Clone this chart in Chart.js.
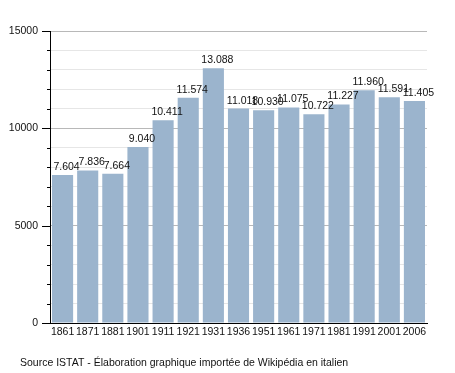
<!DOCTYPE html>
<html>
<head>
<meta charset="utf-8">
<script src="https://cdn.jsdelivr.net/npm/chart.js@4/dist/chart.umd.min.js"></script>
<style>
html,body{margin:0;padding:0;background:#fff;}
#wrap{position:relative;width:455px;height:373px;}
</style>
</head>
<body>
<div id="wrap"><canvas id="c" width="455" height="373"></canvas></div>
<script>
const years = ['1861','1871','1881','1901','1911','1921','1931','1936','1951','1961','1971','1981','1991','2001','2006'];
const population = [7604,7836,7664,9040,10411,11574,13088,11018,10930,11075,10722,11227,11960,11591,11405];
const yTickLabels = [0,5000,10000,15000];
const sourceNote = 'Source ISTAT - Élaboration graphique importée de Wikipédia en italien';

const FONT = '"Liberation Sans", Arial, Helvetica, sans-serif';
const FS = 10.5;
const fmt = v => String(v).replace(/\B(?=(\d{3})+(?!\d))/g, '.');

const extras = {
  id: 'extras',
  afterDatasetsDraw(chart) {
    const ctx = chart.ctx;
    const y = chart.scales.y;
    const area = chart.chartArea;
    ctx.save();
    ctx.strokeStyle = '#000';
    ctx.lineWidth = 1;
    for (let v = 0; v <= 15000; v += 1000) {
      const py = Math.round(y.getPixelForValue(v)) + 0.5;
      const len = yTickLabels.includes(v) ? 8 : 3;
      ctx.beginPath();
      ctx.moveTo(area.left - len, py);
      ctx.lineTo(area.left, py);
      ctx.stroke();
    }
    ctx.fillStyle = '#111';
    ctx.font = FS + 'px ' + FONT;
    ctx.textAlign = 'center';
    ctx.textBaseline = 'alphabetic';
    const meta = chart.getDatasetMeta(0);
    meta.data.forEach((bar, i) => {
      ctx.fillText(fmt(population[i]), bar.x + 4, bar.y - 5);
    });
    ctx.textAlign = 'left';
    ctx.fillText(sourceNote, 20, 366);
    ctx.restore();
  }
};

new Chart(document.getElementById('c'), {
  type: 'bar',
  data: {
    labels: years,
    datasets: [{
      data: population,
      backgroundColor: 'rgb(155,180,205)',
      borderWidth: 0,
      barPercentage: 1,
      categoryPercentage: 0.84
    }]
  },
  options: {
    responsive: false,
    animation: false,
    devicePixelRatio: 1,
    layout: { padding: { top: 31, right: 28, bottom: 0, left: 0 } },
    plugins: { legend: { display: false }, tooltip: { enabled: false } },
    scales: {
      x: {
        grid: { display: false, drawTicks: false },
        border: { display: true, color: '#000', width: 1 },
        ticks: { color: '#111', font: { family: FONT, size: FS }, padding: 3, maxRotation: 0, autoSkip: false },
        afterFit(s) { s.height = 50; }
      },
      y: {
        min: 0, max: 15000,
        grid: {
          drawTicks: false,
          color: ctx => (ctx.tick && ctx.tick.value % 5000 === 0) ? '#b8b8b8' : '#e6e6e6'
        },
        border: { display: true, color: '#000', width: 1 },
        ticks: {
          stepSize: 1000,
          padding: 12,
          color: '#111',
          font: { family: FONT, size: FS },
          callback: v => yTickLabels.includes(v) ? String(v) : ''
        },
        afterFit(s) { s.width = 50; }
      }
    }
  },
  plugins: [extras]
});
</script>
</body>
</html>
